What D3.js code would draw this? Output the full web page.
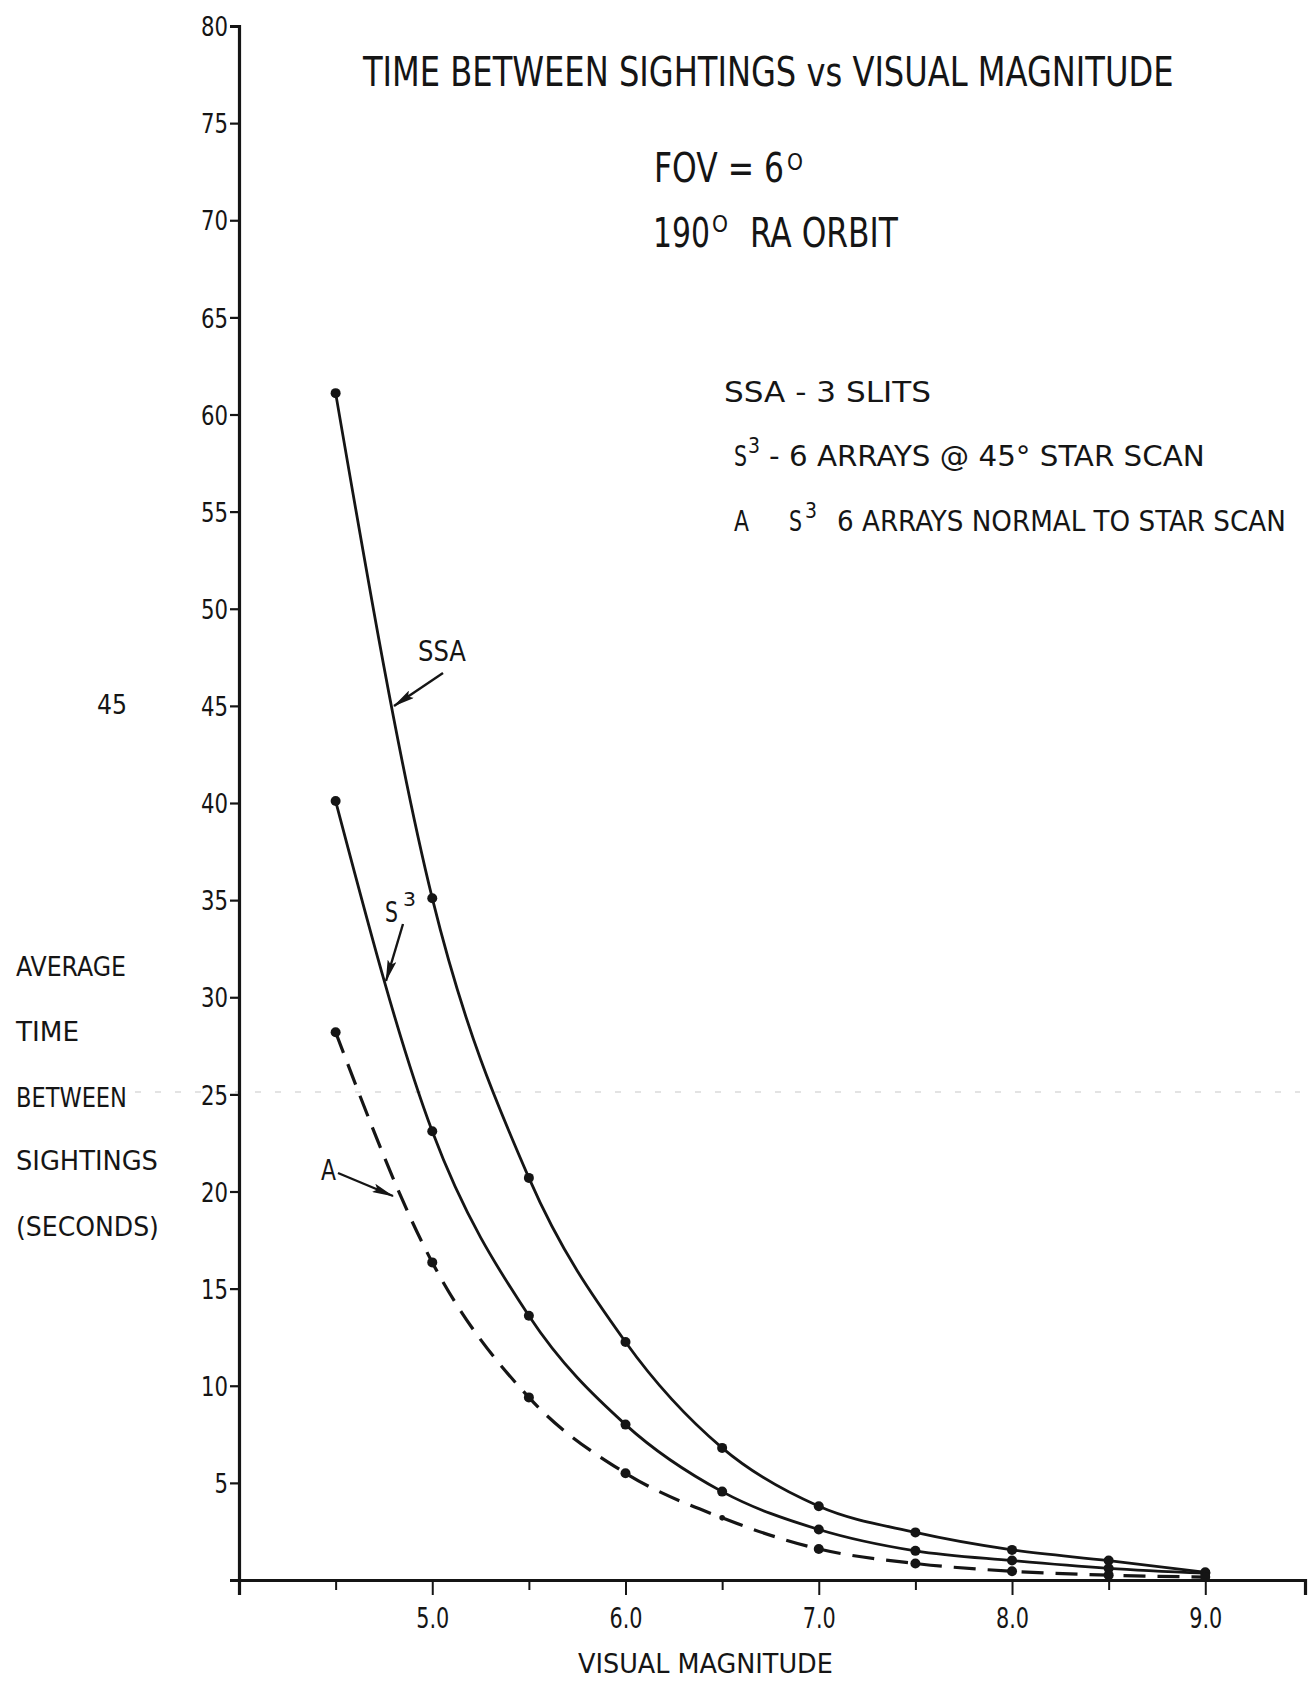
<!DOCTYPE html>
<html>
<head>
<meta charset="utf-8">
<script src="https://cdn.jsdelivr.net/npm/d3@7"></script>
<style>
  html, body { margin: 0; padding: 0; background: #fff; }
  svg { display: block; }
  text { fill: #151515; font-family: "DejaVu Sans Condensed", "DejaVu Sans", sans-serif; }
</style>
</head>
<body>
<svg id="chart" width="1314" height="1685"></svg>
<script>
// ---------- data ----------
const magnitudes = [4.5, 5.0, 5.5, 6.0, 6.5, 7.0, 7.5, 8.0, 8.5, 9.0];
const ssaValues  = [61.1, 35.1, 20.7, 12.25, 6.8, 3.8, 2.45, 1.55, 1.0, 0.4];
const s3Values   = [40.1, 23.1, 13.6, 8.0, 4.55, 2.6, 1.5, 1.0, 0.6, 0.35];
const aValues    = [28.2, 16.35, 9.4, 5.5, 3.2, 1.6, 0.85, 0.45, 0.25, 0.15];
const yTickValues = [5, 10, 15, 20, 25, 30, 35, 40, 45, 50, 55, 60, 65, 70, 75, 80];
const xMajorTicks = [5, 6, 7, 8, 9];
const xMinorTicks = [4.5, 5.5, 6.5, 7.5, 8.5];
const xTickLabels = ["5.0", "6.0", "7.0", "8.0", "9.0"];

// ---------- scales ----------
const svg = d3.select("#chart");
const x = d3.scaleLinear().domain([4, 9.516]).range([239, 1305]);
const y = d3.scaleLinear().domain([0, 80]).range([1580, 26]);

const ink = "#151515";

// faint scan artefact line
svg.append("line")
  .attr("x1", 135).attr("x2", 1300).attr("y1", 1092).attr("y2", 1092)
  .attr("stroke", "#a5a5a5").attr("stroke-width", 1.2)
  .attr("stroke-dasharray", "6 14").attr("opacity", 0.6);

// ---------- axes ----------
const yAxis = d3.axisLeft(y).tickValues(yTickValues).tickSize(9).tickPadding(2)
  .tickFormat(d3.format("d"));
const gy = svg.append("g").attr("transform", `translate(${x(4)},0)`).call(yAxis);
gy.select(".domain").attr("stroke", ink).attr("stroke-width", 3.2);
gy.selectAll(".tick line").attr("stroke", ink).attr("stroke-width", 2.2);
gy.selectAll(".tick text").attr("font-size", 27).attr("fill", ink)
  .attr("textLength", d => String(d).length * 13.5).attr("lengthAdjust", "spacingAndGlyphs")
  .attr("dy", "0.36em");

const xAxisMajor = d3.axisBottom(x).tickValues(xMajorTicks).tickSize(15).tickPadding(12)
  .tickFormat((d, i) => xTickLabels[i]);
const gx = svg.append("g").attr("transform", `translate(0,${y(0)})`).call(xAxisMajor);
gx.select(".domain").attr("stroke", ink).attr("stroke-width", 3.2);
gx.selectAll(".tick line").attr("stroke", ink).attr("stroke-width", 2);
gx.selectAll(".tick text").attr("font-size", 29).attr("fill", ink)
  .attr("textLength", 33).attr("lengthAdjust", "spacingAndGlyphs");

const xAxisMinor = d3.axisBottom(x).tickValues(xMinorTicks).tickSize(10).tickFormat("");
const gxm = svg.append("g").attr("transform", `translate(0,${y(0)})`).call(xAxisMinor);
gxm.select(".domain").remove();
gxm.selectAll(".tick line").attr("stroke", ink).attr("stroke-width", 2);

// ---------- curves ----------
const line = d3.line().x(d => x(d[0])).y(d => y(d[1])).curve(d3.curveMonotoneX);
const series = [
  { values: ssaValues, dash: null },
  { values: s3Values, dash: null },
  { values: aValues, dash: "22 12" }
];
series.forEach((s, si) => {
  const pts = magnitudes.map((m, i) => [m, s.values[i]]);
  svg.append("path").datum(pts)
    .attr("d", line).attr("fill", "none")
    .attr("stroke", ink).attr("stroke-width", si === 2 ? 3.2 : 2.8)
    .attr("stroke-dasharray", s.dash);
  svg.selectAll(null).data(pts).enter().append("circle")
    .attr("cx", d => x(d[0])).attr("cy", d => y(d[1]))
    .attr("r", (d, i) => (si === 2 && i === 4) ? 2.8 : 5)
    .attr("fill", ink);
});

// ---------- arrows ----------
const defs = svg.append("defs");
defs.append("marker").attr("id", "arrow")
  .attr("viewBox", "0 0 22 9").attr("refX", 21).attr("refY", 4.5)
  .attr("markerWidth", 22).attr("markerHeight", 9)
  .attr("markerUnits", "userSpaceOnUse").attr("orient", "auto")
  .append("path").attr("d", "M0,0 L22,4.5 L0,9 L4,4.5 Z").attr("fill", ink);

function arrow(x1, y1, x2, y2) {
  svg.append("line").attr("x1", x1).attr("y1", y1).attr("x2", x2).attr("y2", y2)
    .attr("stroke", ink).attr("stroke-width", 2.4).attr("marker-end", "url(#arrow)");
}
arrow(443, 673, 394, 706);
arrow(403, 924, 386, 981);
arrow(338, 1173, 393, 1196);

// ---------- text (condensed by horizontal scaling to fit the measured width) ----------
function txt(str, xx, yy, size, len) {
  const g = svg.append("g");
  const t = g.append("text").attr("x", 0).attr("y", 0).attr("font-size", size).text(str);
  const w = t.node().getComputedTextLength();
  const sx = len ? len / w : 1;
  g.attr("transform", `translate(${xx},${yy}) scale(${sx},1)`);
  return t;
}

// title
txt("TIME BETWEEN SIGHTINGS vs VISUAL MAGNITUDE", 363, 86, 40, 811);
// FOV
txt("FOV = 6", 654, 182, 41, 130);
txt("O", 787, 170, 23, 16);
txt("190", 653, 247, 41, 57);
txt("O", 712, 232, 23, 16);
txt("RA ORBIT", 750, 247, 41, 148);

// legend
txt("SSA - 3 SLITS", 724, 402, 28, 207);
txt("S", 734, 466, 28, 13);
txt("3", 748, 453, 21, 12);
txt("- 6 ARRAYS @ 45° STAR SCAN", 769, 466, 28, 436);
txt("A", 734, 531, 28, 15);
txt("S", 789, 531, 28, 13);
txt("3", 805, 518, 21, 12);
txt("6 ARRAYS NORMAL TO STAR SCAN", 837, 531, 28, 449);

// curve labels
txt("SSA", 418, 661, 28, 48);
txt("S", 385, 922, 29, 13);
txt("3", 403, 906, 19, 13);
txt("A", 321, 1180, 29, 15);

// stray 45
txt("45", 97, 714, 27, 30);

// y-axis title
const yLabel = ["AVERAGE", "TIME", "BETWEEN", "SIGHTINGS", "(SECONDS)"];
const yLabelLens = [110, 63, 111, 142, 143];
const yLabelBase = [976, 1041, 1107, 1170, 1236];
yLabel.forEach((s, i) => txt(s, 16, yLabelBase[i], 27, yLabelLens[i]));

// x-axis title
txt("VISUAL MAGNITUDE", 578, 1673, 27, 255);
</script>
</body>
</html>
